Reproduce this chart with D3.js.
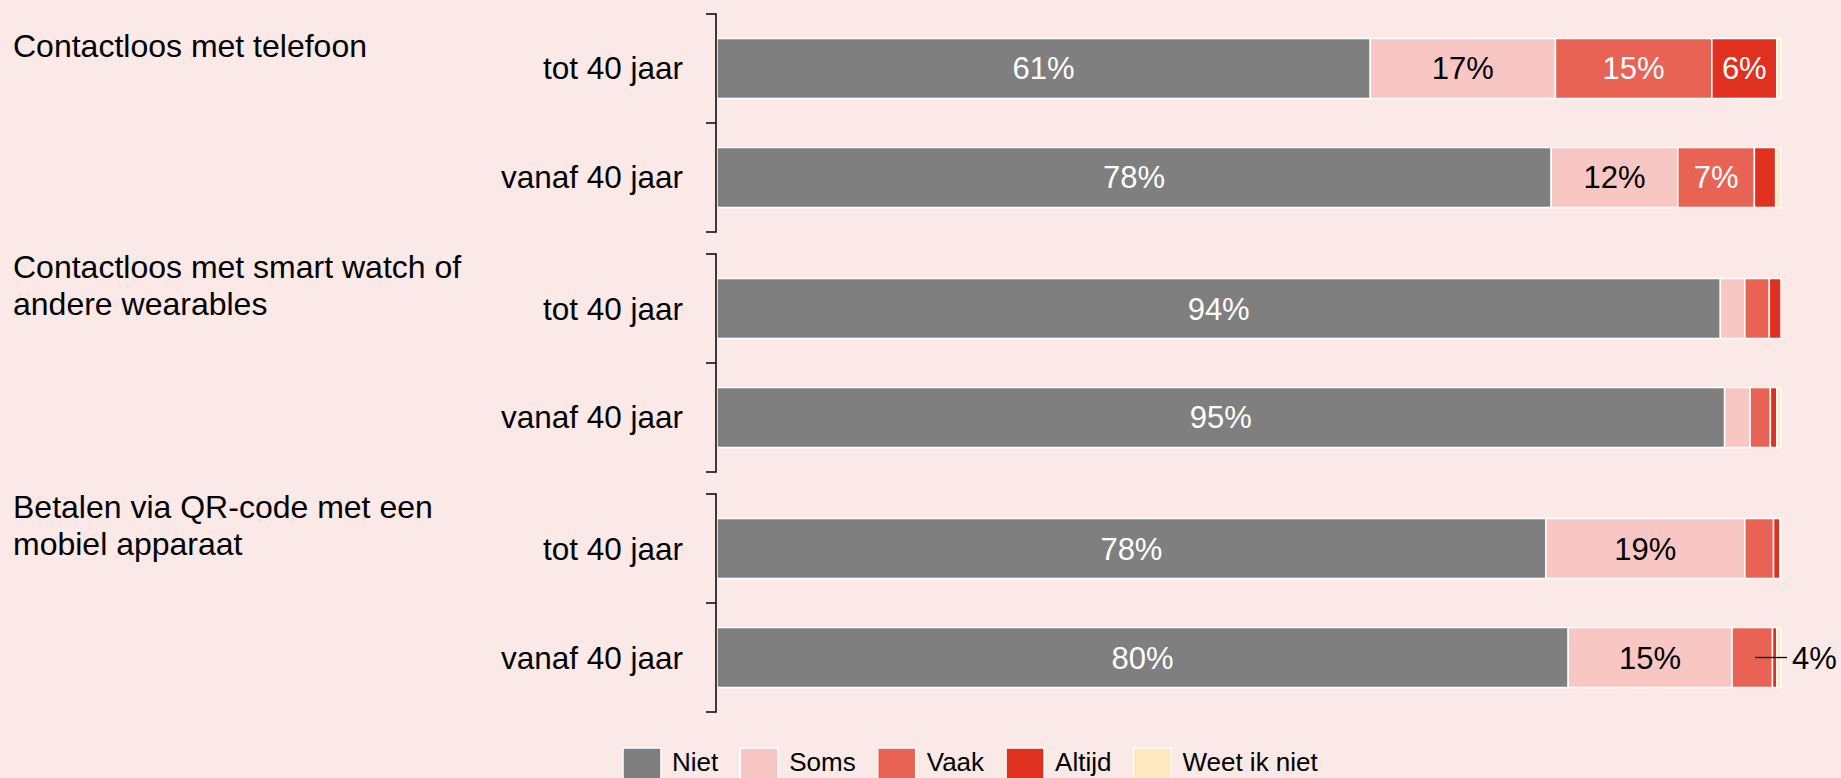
<!DOCTYPE html>
<html>
<head>
<meta charset="utf-8">
<script src="https://cdn.jsdelivr.net/npm/d3@7"></script>
<style>
  html, body { margin: 0; padding: 0; background: #fbe9e7; overflow: hidden; }
  svg { display: block; font-family: "Liberation Sans", Arial, sans-serif; }
</style>
</head>
<body>
<div id="chart"></div>
<script>
// groups and their (wrapped) titles
const groups = ["telefoon", "wearables", "qr"];
const groupTitles = [
    ["Contactloos met telefoon"],
    ["Contactloos met smart watch of", "andere wearables"],
    ["Betalen via QR-code met een", "mobiel apparaat"]
];
const ages = ["tot 40 jaar", "vanaf 40 jaar"];
const seriesNames = ["Niet", "Soms", "Vaak", "Altijd", "Weet ik niet"];
const seriesColors = ["#7f7f7f", "#f8c7c3", "#e96355", "#e0301f", "#fde8bf"];
const labelColors = ["#fff", "#000", "#fff", "#fff", "#000"];

// rows: telefoon tot/vanaf, wearables tot/vanaf, qr tot/vanaf
const niet   = [61.4, 78.4, 94.3, 94.7, 77.9, 80.0];
const soms   = [17.4, 11.9,  2.3,  2.4, 18.7, 15.4];
const vaak   = [14.7,  7.2,  2.3,  1.9,  2.7,  3.8];
const altijd = [ 6.1,  2.0,  1.1,  0.6,  0.6,  0.4];
const weet   = [ 0.4,  0.5,  0.0,  0.4,  0.1,  0.4];

// small value shown outside the bar with a leader line: [row, series]
const callouts = [[5, 2]];

const W = 1841, H = 778;
const svg = d3.select("#chart").append("svg")
    .attr("width", W)
    .attr("height", H);

const rows = [];
groups.forEach((g, gi) => ages.forEach((a, ai) => rows.push({ group: g, age: a, i: gi * 2 + ai })));
const values = [niet, soms, vaak, altijd, weet];

const x = d3.scaleLinear().domain([0, 100]).range([717, 1781]);

const yGroup = d3.scaleBand()
    .domain(groups)
    .range([14, 712])
    .paddingInner(0.0917)
    .paddingOuter(0);

const yAge = d3.scaleBand()
    .domain(ages)
    .range([0, yGroup.bandwidth()])
    .paddingInner(0.45)
    .paddingOuter(0.225);

const rowY = r => yGroup(r.group) + yAge(r.age);
const bh = yAge.bandwidth();

// stacked segments
const segs = [];
rows.forEach(r => {
    let cum = 0;
    values.forEach((arr, s) => {
        const v = arr[r.i];
        segs.push({ row: r, s: s, v: v, x0: cum, x1: cum + v });
        cum += v;
    });
});

svg.append("g")
    .selectAll("rect")
    .data(segs.filter(d => d.v > 0))
    .enter()
    .append("rect")
    .attr("x", d => x(d.x0))
    .attr("y", d => rowY(d.row))
    .attr("width", d => x(d.x1) - x(d.x0))
    .attr("height", bh)
    .attr("fill", d => seriesColors[d.s])
    .attr("stroke", "#fff")
    .attr("stroke-width", 1.5);

// labels inside segments
svg.append("g")
    .selectAll("text")
    .data(segs.filter(d => d.v >= 5))
    .enter()
    .append("text")
    .attr("x", d => x((d.x0 + d.x1) / 2))
    .attr("y", d => rowY(d.row) + bh / 2 + 11)
    .attr("text-anchor", "middle")
    .attr("font-size", 31)
    .attr("fill", d => labelColors[d.s])
    .text(d => Math.round(d.v) + "%");

// callouts
callouts.forEach(([ri, s]) => {
    const d = segs.find(e => e.row.i === ri && e.s === s);
    const cy = rowY(d.row) + bh / 2;
    svg.append("line")
        .attr("x1", x((d.x0 + d.x1) / 2) + 3)
        .attr("x2", x(100) + 6)
        .attr("y1", cy).attr("y2", cy)
        .attr("stroke", "#000")
        .attr("stroke-width", 1.3);
    svg.append("text")
        .attr("x", x(100) + 11)
        .attr("y", cy + 11)
        .attr("font-size", 31)
        .attr("fill", "#000")
        .text(Math.round(d.v) + "%");
});

// bracket axis per group
const axisX = x(0) - 1;
const axis = svg.append("g").attr("fill", "none").attr("stroke", "#000").attr("stroke-width", 1.5);
groups.forEach(g => {
    const top = yGroup(g), bot = yGroup(g) + yGroup.bandwidth();
    axis.append("path").attr("d", `M${axisX - 10},${top}H${axisX}V${bot}H${axisX - 10}`);
    axis.append("path").attr("d", `M${axisX - 10},${top + yAge.step()}H${axisX}`);
});

// age labels
svg.append("g")
    .selectAll("text")
    .data(rows)
    .enter()
    .append("text")
    .attr("x", 683)
    .attr("y", d => rowY(d) + bh / 2 + 11)
    .attr("text-anchor", "end")
    .attr("font-size", 31.5)
    .attr("fill", "#000")
    .text(d => d.age);

// group titles
const lineH = 37.7;
groups.forEach((g, gi) => {
    const lines = groupTitles[gi];
    const base = yGroup(g) + 42.5 - (lines.length - 1) * lineH / 2;
    const t = svg.append("text")
        .attr("x", 13)
        .attr("font-size", 32)
        .attr("fill", "#000");
    lines.forEach((l, li) => {
        t.append("tspan").attr("x", 13).attr("y", base + li * lineH).text(l);
    });
});

// legend (sits at the bottom edge, as in the original)
const legend = svg.append("g").attr("transform", "translate(623,748)");
let lx = 0;
seriesNames.forEach((name, i) => {
    legend.append("rect")
        .attr("x", lx).attr("y", 0)
        .attr("width", 38).attr("height", 38)
        .attr("fill", seriesColors[i])
        .attr("stroke", "#fff")
        .attr("stroke-width", 1.5);
    const t = legend.append("text")
        .attr("x", lx + 49)
        .attr("y", 23)
        .attr("font-size", 26)
        .attr("fill", "#000")
        .text(name);
    lx += 49 + t.node().getComputedTextLength() + 22;
});
</script>
</body>
</html>
